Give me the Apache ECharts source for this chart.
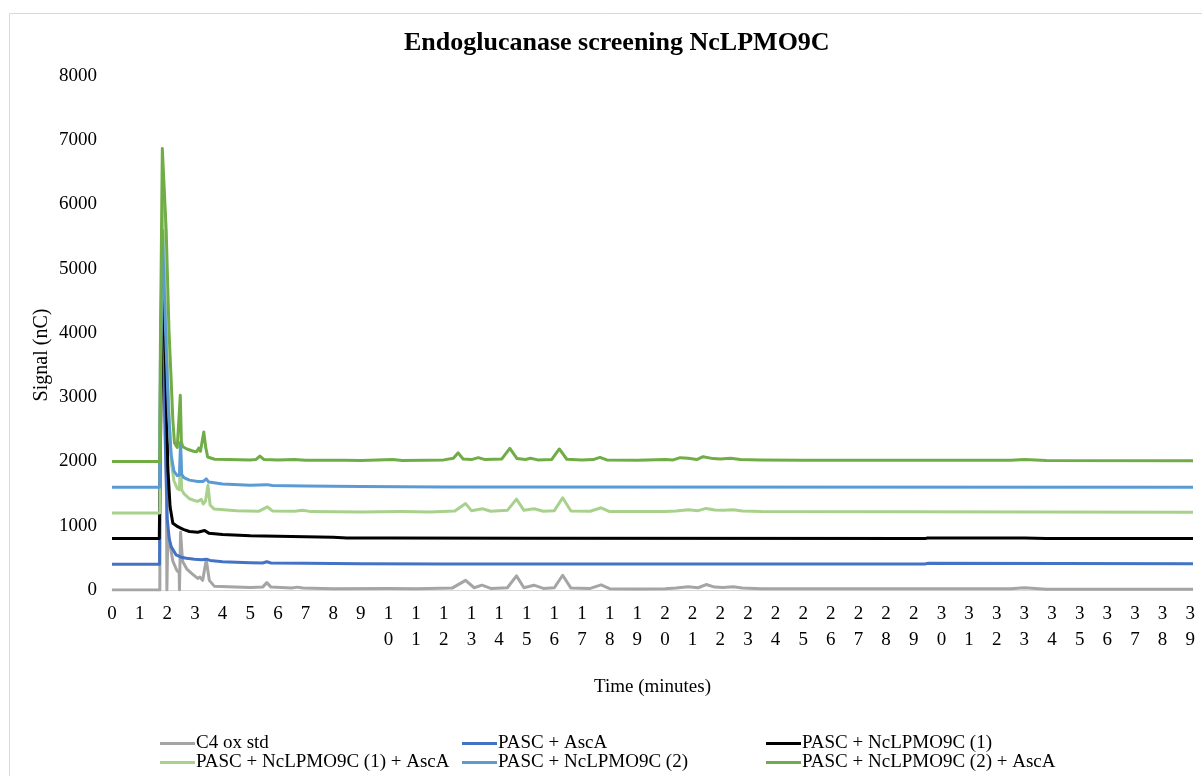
<!DOCTYPE html>
<html>
<head>
<meta charset="utf-8">
<script src="https://cdn.jsdelivr.net/npm/echarts@6/dist/echarts.min.js"></script>
<style>
html,body{margin:0;padding:0;background:#fff;}
#chart{width:1202px;height:776px;}
</style>
</head>
<body>
<div id="chart"></div>
<script>
// ---- Data (time in minutes, signal in nC) ----
const seriesNames = ['C4 ox std','PASC + AscA','PASC + NcLPMO9C (1)','PASC + NcLPMO9C (1) + AscA','PASC + NcLPMO9C (2)','PASC + NcLPMO9C (2) + AscA'];
const seriesColors = ['#A5A5A5','#4472C4','#000000','#A9D18E','#5B9BD5','#70AD47'];

const c4Time   = [0,1.73,1.745,1.82,1.92,1.97,1.985,2.0,2.02,2.1,2.2,2.35,2.43,2.44,2.465,2.48,2.55,2.7,2.9,3.1,3.18,3.28,3.41,3.52,3.7,4.2,5.0,5.45,5.6,5.75,6.5,6.7,6.9,8,10,11,12.3,12.79,13.1,13.38,13.7,14.3,14.63,14.9,15.26,15.6,16.0,16.3,16.6,17.3,17.69,18.0,19,20,20.4,20.84,21.2,21.49,21.8,22.1,22.47,22.8,23.5,32.5,33.0,33.8,39.1];
const c4Signal = [0,0,3000,5300,3000,1500,0,0,900,700,450,300,270,0,0,900,450,330,250,180,200,150,470,150,60,50,40,45,115,45,30,45,30,20,25,20,30,150,35,75,25,35,220,35,75,25,35,230,30,25,80,20,15,20,30,50,35,85,45,40,50,30,20,20,35,10,10];

const ascTime   = [0,1.72,1.74,1.81,1.92,2.0,2.07,2.14,2.32,2.5,2.69,2.99,3.25,3.41,3.55,4.0,5.0,5.45,5.6,5.75,7,9,12,29.4,29.5,39.1];
const ascSignal = [400,400,2500,4800,2400,1100,800,675,545,510,493,478,470,480,460,440,425,420,440,420,415,410,405,405,415,410];

const lpmo1Time   = [0,1.71,1.72,1.77,1.79,1.84,1.95,2.02,2.1,2.2,2.38,2.5,2.6,2.8,3.1,3.35,3.5,4.0,5.0,6.0,8.0,8.5,10,15,29.4,29.5,33,33.8,39.1];
const lpmo1Signal = [800,800,1170,1180,3500,5200,3300,1900,1300,1040,985,960,940,910,900,925,885,865,845,835,820,810,808,805,800,810,810,800,800];

const lpmo1AscTime   = [0,1.73,1.75,1.83,1.95,2.05,2.14,2.24,2.36,2.44,2.48,2.52,2.6,2.8,3.0,3.1,3.23,3.3,3.38,3.47,3.55,3.7,4.5,5.3,5.62,5.8,6.6,6.9,7.2,9,10.5,11.5,12.4,12.79,13.0,13.4,13.7,14.3,14.63,14.9,15.27,15.6,16.0,16.3,16.6,17.3,17.69,18.0,20,20.4,20.84,21.2,21.49,21.8,22.1,22.47,22.8,23.5,39.1];
const lpmo1AscSignal = [1200,1200,3000,6000,4200,2900,2000,1700,1580,1560,2130,1560,1500,1420,1390,1380,1410,1340,1380,1630,1320,1260,1235,1225,1295,1230,1225,1240,1220,1215,1220,1215,1230,1345,1235,1265,1225,1240,1415,1240,1265,1225,1235,1435,1230,1225,1280,1220,1220,1230,1250,1235,1270,1245,1240,1250,1230,1220,1210];

const lpmo2Time   = [0,1.73,1.75,1.82,1.94,2.04,2.14,2.24,2.36,2.44,2.48,2.52,2.6,2.8,3.1,3.3,3.41,3.5,4.0,5.0,5.6,5.8,7,9,12,39.1];
const lpmo2Signal = [1600,1600,3500,5600,4000,2800,2100,1850,1780,1790,2300,1800,1750,1710,1690,1690,1730,1680,1650,1630,1640,1625,1620,1610,1605,1600];

const lpmo2AscTime   = [0,1.73,1.75,1.82,1.96,2.06,2.14,2.2,2.26,2.36,2.43,2.47,2.51,2.56,2.73,2.95,3.06,3.14,3.2,3.25,3.32,3.39,3.46,3.71,4.2,5.0,5.2,5.35,5.5,6.0,6.6,7.0,8.4,9.0,10.16,10.5,11.3,12.0,12.35,12.52,12.7,13.0,13.25,13.5,14.1,14.39,14.65,14.95,15.14,15.4,15.9,16.18,16.45,17.0,17.4,17.65,17.9,19,20.0,20.3,20.55,20.84,21.15,21.38,21.74,22.0,22.37,22.73,23.45,25,32.5,33.0,33.8,39.1];
const lpmo2AscSignal = [2000,2000,3800,6870,5600,4050,3270,2650,2290,2220,2240,3030,2300,2230,2190,2160,2150,2210,2160,2190,2460,2220,2070,2035,2030,2025,2030,2085,2030,2025,2030,2020,2020,2015,2030,2015,2020,2025,2050,2135,2040,2030,2060,2030,2040,2205,2045,2030,2050,2025,2030,2195,2035,2025,2030,2065,2025,2020,2030,2025,2060,2050,2030,2075,2045,2040,2050,2030,2025,2020,2020,2030,2015,2010];

const timeSets   = [c4Time, ascTime, lpmo1Time, lpmo1AscTime, lpmo2Time, lpmo2AscTime];
const signalSets = [c4Signal, ascSignal, lpmo1Signal, lpmo1AscSignal, lpmo2Signal, lpmo2AscSignal];

const yTicks = {min: 0, max: 8000, interval: 1000};
const xTicks = {min: 0, max: 39.1, interval: 1};

// ---- Chart ----
const FONT = '"Liberation Serif", "Times New Roman", serif';
const chart = echarts.init(document.getElementById('chart'), null, {renderer: 'canvas'});

const series = seriesNames.map((name, i) => ({
  name: name,
  type: 'line',
  showSymbol: false,
  symbol: 'none',
  color: seriesColors[i],
  lineStyle: {width: 3, color: seriesColors[i], join: 'round'},
  itemStyle: {color: seriesColors[i]},
  emphasis: {disabled: true},
  animation: false,
  data: timeSets[i].map((t, j) => [t, signalSets[i][j]])
}));

const legendPos = [
  {left: 160, top: 734}, {left: 462, top: 734}, {left: 766, top: 734},
  {left: 160, top: 753}, {left: 462, top: 753}, {left: 766, top: 753}
];
const legends = seriesNames.map((name, i) => ({
  data: [name],
  left: legendPos[i].left,
  top: legendPos[i].top,
  padding: 0,
  icon: 'rect',
  itemWidth: 35,
  itemHeight: 3,
  selectedMode: false,
  textStyle: {fontFamily: FONT, fontSize: 19, color: '#000', padding: [0,0,0,-4]}
}));

chart.setOption({
  backgroundColor: '#fff',
  animation: false,
  title: {
    text: 'Endoglucanase screening NcLPMO9C',
    left: 399,
    top: 25,
    textStyle: {fontFamily: FONT, fontSize: 26, fontWeight: 'bold', color: '#000'}
  },
  legend: legends,
  grid: {left: 112, right: 9, top: 76, bottom: 186, containLabel: false},
  xAxis: {
    type: 'value',
    min: xTicks.min, max: xTicks.max, interval: xTicks.interval,
    name: 'Time (minutes)',
    nameLocation: 'middle',
    nameGap: 88,
    nameTextStyle: {fontFamily: FONT, fontSize: 19, color: '#000'},
    axisLine: {show: true, lineStyle: {color: '#D9D9D9', width: 1}},
    axisTick: {show: false},
    splitLine: {show: false},
    axisLabel: {
      fontFamily: FONT, fontSize: 19, color: '#000', margin: 11, lineHeight: 26,
      showMaxLabel: false,
      formatter: v => Number.isInteger(v) ? String(v).split('').join('\n') : ''
    }
  },
  yAxis: {
    type: 'value',
    min: yTicks.min, max: yTicks.max, interval: yTicks.interval,
    axisLine: {show: false},
    axisTick: {show: false},
    splitLine: {show: false},
    axisLabel: {fontFamily: FONT, fontSize: 19, color: '#000', margin: 15, formatter: v => String(v)}
  },
  graphic: [
    {type: 'rect', shape: {x: 9.5, y: 13.5, width: 1200, height: 800}, style: {fill: 'none', stroke: '#D9D9D9', lineWidth: 1}, silent: true},
    {type: 'text', x: 42, y: 355, rotation: Math.PI / 2, style: {text: 'Signal (nC)', fontFamily: FONT, fontSize: 20, fill: '#000', align: 'center', verticalAlign: 'middle'}}
  ],
  series: series
});
</script>
</body>
</html>
